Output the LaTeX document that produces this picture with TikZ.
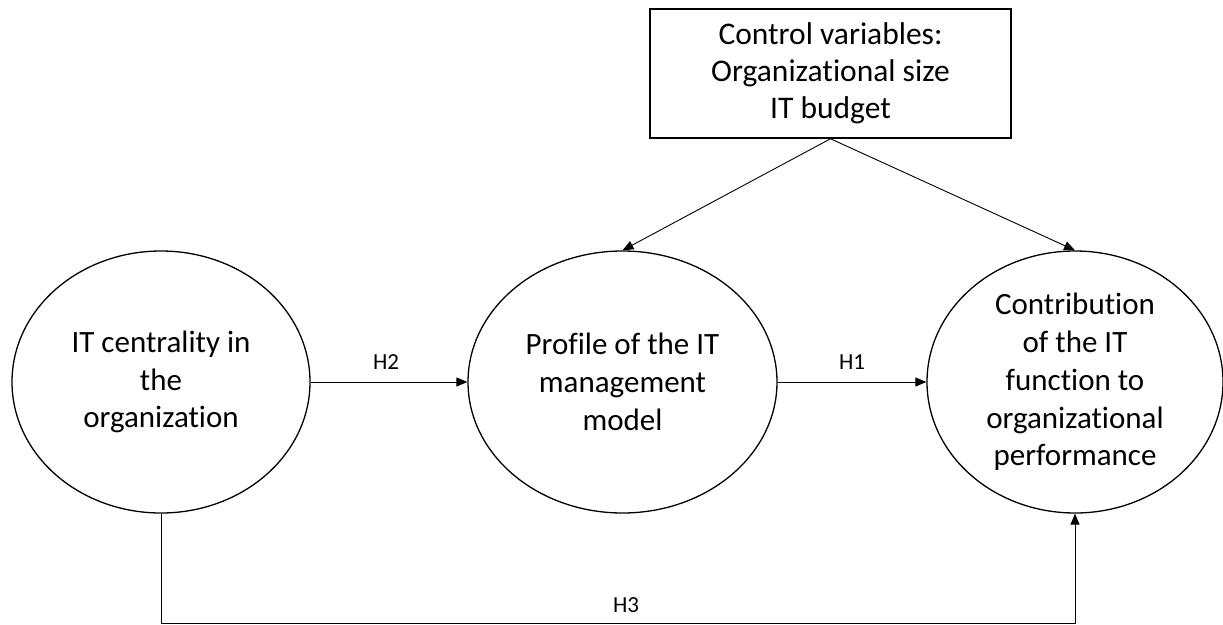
\documentclass[tikz,border=0pt]{standalone}
\usepackage{fontspec}
\setmainfont{Carlito}[Ligatures=CommonOff]
\usetikzlibrary{shapes.geometric,arrows.meta}
\begin{document}
\begin{tikzpicture}[x=1pt,y=-1pt,
  construct/.style={ellipse,draw,line width=1.3pt,inner sep=0pt,align=center,
    font=\fontsize{31}{37.8}\selectfont},
  ctrlbox/.style={rectangle,draw,line width=1.5pt,inner sep=0pt,align=center,
    minimum width=361pt,minimum height=129pt,font=\fontsize{31.5}{37}\selectfont},
  arr/.style={line width=0.9pt,-{Triangle[length=11pt,width=9pt]}},
  hlabel/.style={font=\fontsize{23}{28}\selectfont,inner sep=0pt}]
\useasboundingbox (0,0) rectangle (1223,624);
\node[construct,minimum width=298pt,minimum height=262pt] (L) at (161,382)
  {IT centrality in\\the\\organization};
\node[construct,minimum width=309pt,minimum height=262pt] (M) at (622.5,382)
  {Profile of the IT\\management\\model};
\node[construct,minimum width=296pt,minimum height=262pt] (R) at (1075,382)
  {Contribution\\of the IT\\function to\\organizational\\performance};
\node[ctrlbox] (C) at (830.5,73.5)
  {Control variables:\\Organizational size\\IT budget};
\coordinate (b1) at (161,623);
\coordinate (b2) at (1075,623);
\draw[arr] (L.east) -- (M.west) node[hlabel,midway,yshift=20pt,xshift=-3pt] {H2};
\draw[arr] (M.east) -- (R.west) node[hlabel,midway,yshift=20pt] {H1};
\draw[arr] (C.south) -- (M.north);
\draw[arr] (C.south) -- (R.north);
\draw[arr] (L.south) -- (b1) -- (b2) node[hlabel,midway,yshift=18pt,xshift=8pt] {H3} -- (R.south);
\end{tikzpicture}
\end{document}
